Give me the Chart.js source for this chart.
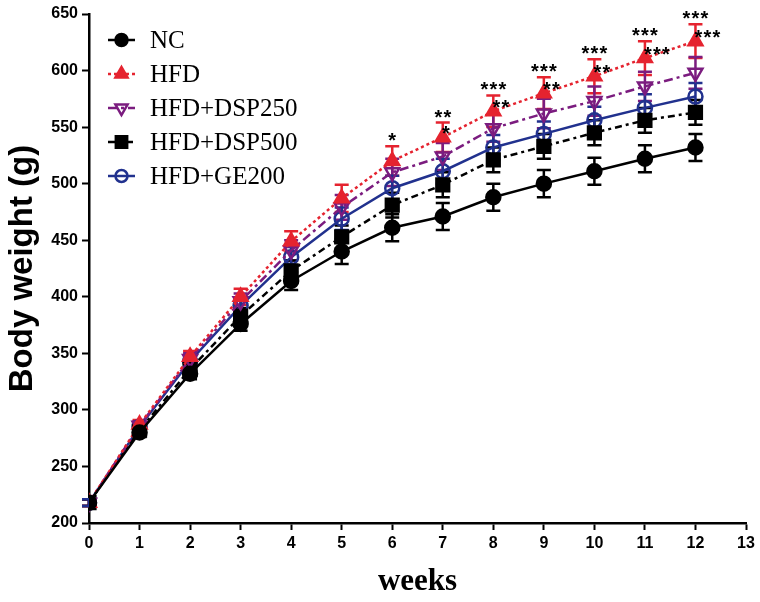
<!DOCTYPE html>
<html>
<head>
<meta charset="utf-8">
<script src="https://cdn.jsdelivr.net/npm/chart.js@4.4.0/dist/chart.umd.min.js"></script>
<style>
  html, body { margin: 0; padding: 0; background: #fff; }
</style>
</head>
<body>
<canvas id="myChart" width="760" height="602"></canvas>
<script>
// === DONNEES ===
const weeks = [0, 1, 2, 3, 4, 5, 6, 7, 8, 9, 10, 11, 12];

const nc     = [218, 280, 332, 376, 414, 440, 461, 471, 488, 500, 511, 522, 532];
const hfd    = [218, 287, 347, 400, 449, 487, 520, 541, 564, 580, 595, 611, 626];
const dsp250 = [218, 286, 345, 396, 441, 479, 510, 524, 549, 562, 573, 586, 598];
const dsp500 = [218, 282, 336, 383, 423, 453, 481, 499, 521, 533, 545, 556, 563];
const ge200  = [218, 285, 343, 392, 435, 469, 496, 511, 532, 544, 556, 567, 577];

// erreurs standard (SEM)
const ncErr     = [3, 4, 5, 6, 8, 11, 12, 12, 12, 12, 12, 12, 12];
const hfdErr    = [3, 4, 5, 7, 9, 12, 13, 13, 14, 14, 15, 15, 15];
const dsp250Err = [3, 4, 5, 7, 9, 11, 12, 12, 12, 13, 13, 13, 14];
const dsp500Err = [3, 4, 5, 7, 9, 10, 11, 11, 11, 11, 11, 11, 11];
const ge200Err  = [3, 4, 5, 7, 9, 10, 11, 11, 11, 11, 12, 12, 12];

// etoiles de significativite
const starsTop  = ['', '', '', '', '', '', '*', '**', '***', '***', '***', '***', '***'];
const starsSide = ['', '', '', '', '', '', '', '*', '**', '**', '**', '***', '***'];

const xTicks = [0, 1, 2, 3, 4, 5, 6, 7, 8, 9, 10, 11, 12, 13];
const yTicks = [200, 250, 300, 350, 400, 450, 500, 550, 600, 650];

const RED = '#e5232f';
const PURPLE = '#7b1c7f';
const NAVY = '#21318e';

function pts(values) {
  return weeks.map((w, i) => ({ x: w, y: values[i] }));
}

const series = [
  { label: 'NC', values: nc, err: ncErr, color: '#000', dash: [], style: 'circle', fill: true, r: 7 },
  { label: 'HFD', values: hfd, err: hfdErr, color: RED, dash: [3, 3], style: 'triangle', fill: true, r: 8 },
  { label: 'HFD+DSP250', values: dsp250, err: dsp250Err, color: PURPLE, dash: [9, 4, 3, 4], style: 'triangle', rot: 180, fill: false, r: 8 },
  { label: 'HFD+DSP500', values: dsp500, err: dsp500Err, color: '#000', dash: [7, 4, 3, 4], style: 'rect', fill: true, r: 9 },
  { label: 'HFD+GE200', values: ge200, err: ge200Err, color: NAVY, dash: [], style: 'circle', fill: false, r: 7 }
];

// === BARRES D'ERREUR + ETOILES + LEGENDE ===
const extras = {
  id: 'extras',
  beforeDatasetsDraw(chart) {
    const ctx = chart.ctx;
    const xs = chart.scales.x, ys = chart.scales.y;
    ctx.save();
    ctx.setLineDash([]);
    ctx.lineWidth = 2.5;
    series.forEach(s => {
      ctx.strokeStyle = s.color;
      weeks.forEach((w, i) => {
        const px = xs.getPixelForValue(w);
        const top = ys.getPixelForValue(s.values[i] + s.err[i]);
        const bot = ys.getPixelForValue(s.values[i] - s.err[i]);
        ctx.beginPath();
        ctx.moveTo(px, top); ctx.lineTo(px, bot);
        ctx.moveTo(px - 7, top); ctx.lineTo(px + 7, top);
        ctx.moveTo(px - 7, bot); ctx.lineTo(px + 7, bot);
        ctx.stroke();
      });
    });
    ctx.restore();
  },
  afterDraw(chart) {
    const ctx = chart.ctx;
    const xs = chart.scales.x, ys = chart.scales.y;
    ctx.save();
    ctx.fillStyle = '#000';
    ctx.font = 'bold 20px "Liberation Sans", Arial, sans-serif';
    ctx.textAlign = 'center';
    ctx.textBaseline = 'alphabetic';
    const drawStars = (str, cx, cy) => {
      const n = str.length;
      for (let k = 0; k < n; k++) {
        ctx.fillText('*', cx + (k - (n - 1) / 2) * 9, cy + 11);
      }
    };
    weeks.forEach((w, i) => {
      const px = xs.getPixelForValue(w);
      if (starsTop[i]) {
        drawStars(starsTop[i], px, ys.getPixelForValue(hfd[i] + hfdErr[i]) - 10);
      }
      if (starsSide[i]) {
        const n = starsSide[i].length;
        drawStars(starsSide[i], px + 3 + (n - 1) * 4.5, ys.getPixelForValue(hfd[i]) - 8);
      }
    });

    // legende
    const lx0 = 108, lx1 = 135, tx = 150;
    const rows = [40, 74, 108, 142, 176];
    series.forEach((s, i) => {
      const y = rows[i];
      ctx.strokeStyle = s.color;
      ctx.lineWidth = 2.5;
      ctx.setLineDash(s.dash);
      ctx.beginPath();
      ctx.moveTo(lx0, y); ctx.lineTo(lx1, y);
      ctx.stroke();
      ctx.setLineDash([]);
      ctx.fillStyle = s.fill ? s.color : 'rgba(0,0,0,0)';
      Chart.helpers.drawPoint(ctx, {
        pointStyle: s.style,
        radius: s.r - 1,
        rotation: s.rot || 0,
        borderWidth: 2.5
      }, (lx0 + lx1) / 2, y);
      ctx.fillStyle = '#000';
      ctx.font = '25px "Liberation Serif", "Times New Roman", serif';
      ctx.textAlign = 'left';
      ctx.textBaseline = 'middle';
      ctx.fillText(s.label, tx, y + 1);
    });
    ctx.restore();
  }
};

new Chart(document.getElementById('myChart'), {
  type: 'line',
  data: {
    datasets: series.map(s => ({
      label: s.label,
      data: pts(s.values),
      borderColor: s.color,
      borderWidth: 2.5,
      borderDash: s.dash,
      backgroundColor: s.fill ? s.color : 'rgba(0,0,0,0)',
      pointStyle: s.style,
      pointRotation: s.rot || 0,
      pointRadius: s.r,
      pointBorderWidth: 2.5,
      pointBorderColor: s.color,
      pointBackgroundColor: s.fill ? s.color : 'rgba(0,0,0,0)',
      fill: false,
      tension: 0
    }))
  },
  options: {
    responsive: false,
    animation: false,
    devicePixelRatio: 1,
    layout: { padding: { top: 14, right: 14, left: 0, bottom: 0 } },
    plugins: {
      legend: { display: false },
      tooltip: { enabled: false }
    },
    scales: {
      x: {
        type: 'linear',
        min: 0,
        max: 13,
        afterFit: scale => { scale.height = 79; },
        afterBuildTicks: scale => { scale.ticks = xTicks.map(v => ({ value: v })); },
        border: { color: '#000', width: 2.5 },
        grid: { drawOnChartArea: false, drawTicks: true, tickLength: 7, tickWidth: 2, tickColor: '#000' },
        ticks: {
          color: '#000',
          padding: 4,
          font: { family: '"Liberation Sans", Arial, sans-serif', size: 16, weight: 'bold' }
        },
        title: {
          display: true,
          text: 'weeks',
          color: '#000',
          padding: { top: 0, bottom: 1 },
          font: { family: '"Liberation Serif", "Times New Roman", serif', size: 31, weight: 'bold' }
        }
      },
      y: {
        min: 200,
        max: 650,
        afterFit: scale => { scale.width = 89; },
        afterBuildTicks: scale => { scale.ticks = yTicks.map(v => ({ value: v })); },
        border: { color: '#000', width: 2.5 },
        grid: { drawOnChartArea: false, drawTicks: true, tickLength: 7, tickWidth: 2, tickColor: '#000' },
        ticks: {
          color: '#000',
          padding: 4,
          font: { family: '"Liberation Sans", Arial, sans-serif', size: 16, weight: 'bold' }
        },
        title: {
          display: true,
          text: 'Body weight (g)',
          color: '#000',
          padding: { top: 3, bottom: 0 },
          font: { family: '"Liberation Sans", Arial, sans-serif', size: 33, weight: 'bold' }
        }
      }
    }
  },
  plugins: [extras]
});
</script>
</body>
</html>
